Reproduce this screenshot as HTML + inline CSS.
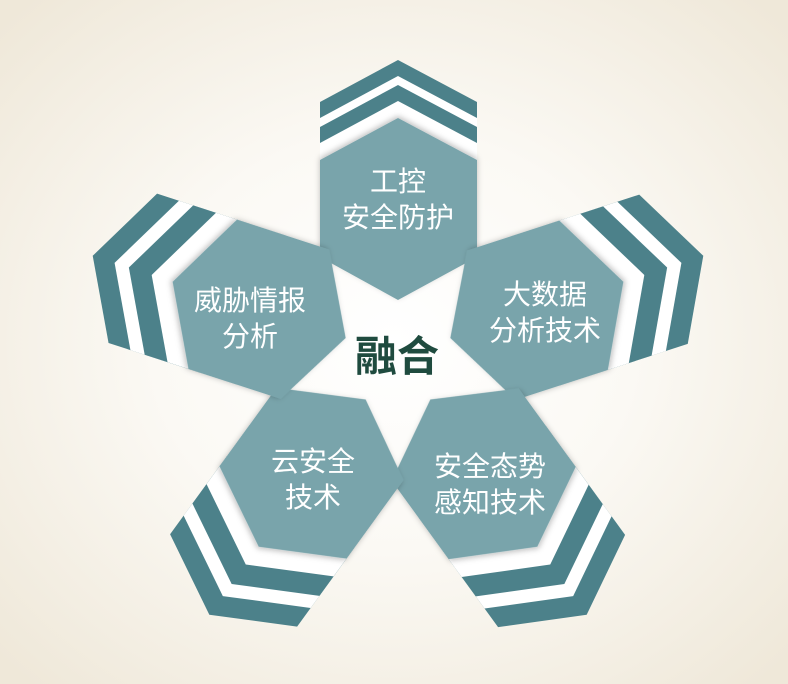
<!DOCTYPE html>
<html><head><meta charset="utf-8">
<style>
html,body{margin:0;padding:0;}
body{width:788px;height:684px;overflow:hidden;}
svg{display:block;}
text{font-family:"Liberation Sans","Noto Sans CJK SC",sans-serif;}
</style></head>
<body>
<svg width="788" height="684" viewBox="0 0 788 684">
  <defs>
    <radialGradient id="bg" cx="50%" cy="50%" r="68%">
      <stop offset="0" stop-color="#ffffff"/>
      <stop offset="0.45" stop-color="#fbf9f4"/>
      <stop offset="1" stop-color="#efe8d9"/>
    </radialGradient>
    <filter id="sh" x="-20%" y="-20%" width="140%" height="140%">
      <feDropShadow dx="0" dy="-2" stdDeviation="3" flood-color="#000" flood-opacity="0.25"/>
    </filter>
    <polygon id="hex" points="0,-55 -78,-98 -78,-195 0,-237 79,-195 79,-98"/>
    <g id="petal">
      <use href="#hex" transform="translate(0,-58)" fill="#4c818a"/>
      <use href="#hex" transform="translate(0,-42)" fill="#ffffff"/>
      <use href="#hex" transform="translate(0,-33)" fill="#4c818a"/>
      <use href="#hex" transform="translate(0,-17)" fill="#ffffff"/>
      <use href="#hex" fill="#79a4ab" filter="url(#sh)"/>
    </g>
    <g id="petalWide">
      <use href="#hex" transform="translate(0,-84)" fill="#4c818a"/>
      <use href="#hex" transform="translate(0,-61)" fill="#ffffff"/>
      <use href="#hex" transform="translate(0,-46)" fill="#4c818a"/>
      <use href="#hex" transform="translate(0,-22)" fill="#ffffff"/>
      <use href="#hex" fill="#79a4ab" filter="url(#sh)"/>
    </g>
  </defs>
  <rect width="788" height="684" fill="url(#bg)"/>
  <g transform="translate(398,355)">
    <use href="#petal" transform="rotate(0)"/>
    <use href="#petalWide" transform="rotate(72)"/>
    <use href="#petalWide" transform="rotate(144)"/>
    <use href="#petalWide" transform="rotate(216)"/>
    <use href="#petalWide" transform="rotate(288)"/>
  </g>
  <g fill="#ffffff" font-size="28" text-anchor="middle">
    <text><tspan x="398" y="191">工控</tspan><tspan x="398" y="227">安全防护</tspan></text>
    <text><tspan x="545" y="304">大数据</tspan><tspan x="545" y="340">分析技术</tspan></text>
    <text><tspan x="490" y="476">安全态势</tspan><tspan x="490" y="512">感知技术</tspan></text>
    <text><tspan x="313" y="471">云安全</tspan><tspan x="313" y="507">技术</tspan></text>
    <text><tspan x="250" y="310">威胁情报</tspan><tspan x="250" y="346">分析</tspan></text>
  </g>
  <text x="397" y="371" font-size="42" font-weight="bold" fill="#1f4b3f" text-anchor="middle">融合</text>
</svg>
</body></html>
